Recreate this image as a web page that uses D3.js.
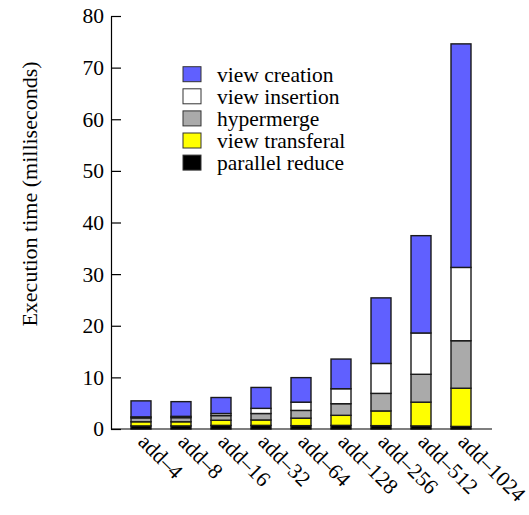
<!DOCTYPE html>
<html>
<head>
<meta charset="utf-8">
<script src="https://cdn.jsdelivr.net/npm/d3@7/dist/d3.min.js"></script>
<style>
  body { margin: 0; background: #fff; }
  svg { display: block; }
  svg text { font-family: "Liberation Serif", "Tinos", "Times New Roman", "Times", serif !important; }
</style>
</head>
<body>
<svg id="chart" width="529" height="515"></svg>
<script>
const categories = ["add–4", "add–8", "add–16", "add–32", "add–64", "add–128", "add–256", "add–512", "add–1024"];
const seriesNames = ["parallel reduce", "view transferal", "hypermerge", "view insertion", "view creation"];
const parallelReduce = [0.6, 0.6, 0.7, 0.7, 0.65, 0.7, 0.65, 0.6, 0.5];
const viewTransferal = [0.8, 0.8, 1.0, 1.05, 1.45, 1.95, 2.85, 4.6, 7.4];
const hypermerge     = [0.75, 0.8, 0.9, 1.25, 1.5, 2.25, 3.4, 5.4, 9.2];
const viewInsertion  = [0.2, 0.25, 0.4, 1.0, 1.6, 2.9, 5.8, 8.0, 14.2];
const viewCreation   = [3.1, 2.85, 3.1, 4.05, 4.75, 5.75, 12.7, 18.85, 43.3];
const yTicks = [0, 10, 20, 30, 40, 50, 60, 70, 80];
const colors = ["#000000", "#ffff00", "#aaaaaa", "#ffffff", "#6060ff"];
const legendOrder = ["view creation", "view insertion", "hypermerge", "view transferal", "parallel reduce"];

const seriesValues = [parallelReduce, viewTransferal, hypermerge, viewInsertion, viewCreation];
const table = categories.map((c, i) => {
  const row = { cat: c };
  seriesNames.forEach((s, k) => row[s] = seriesValues[k][i]);
  return row;
});

const svg = d3.select("#chart");
const fontSize = 21.5;
const serif = "Liberation Serif, Tinos, Times New Roman, serif";

const y = d3.scaleLinear().domain([0, 80]).range([429, 16]);
const x = d3.scaleBand().domain(categories).range([121, 481]).paddingInner(0.5).paddingOuter(0.25);
const color = d3.scaleOrdinal().domain(seriesNames).range(colors);

const stacked = d3.stack().keys(seriesNames)(table);

// bars
const g = svg.append("g");
stacked.forEach(layer => {
  g.selectAll(null).data(layer).enter().append("rect")
    .attr("x", d => x(d.data.cat))
    .attr("width", x.bandwidth())
    .attr("y", d => y(d[1]))
    .attr("height", d => y(d[0]) - y(d[1]))
    .attr("fill", color(layer.key))
    .attr("stroke", "#1a1a1a")
    .attr("stroke-width", 1.4);
});

// y axis
const yAxis = d3.axisLeft(y).tickValues(yTicks).tickSizeInner(-10).tickSizeOuter(0).tickPadding(7);
const ya = svg.append("g").attr("transform", "translate(111,0)").call(yAxis)
  .attr("font-family", serif).attr("font-size", fontSize);
ya.select(".domain").attr("stroke", "#000").attr("stroke-width", 1.2);
ya.selectAll(".tick line").attr("stroke", "#000").attr("stroke-width", 1.2);
ya.selectAll(".tick text").attr("fill", "#000");

// x baseline
svg.append("line").attr("x1", 111).attr("x2", 492).attr("y1", y(0)).attr("y2", y(0))
  .attr("stroke", "#000").attr("stroke-width", 1.2);

// x labels
const xAxis = d3.axisBottom(x).tickSize(0).tickPadding(0);
const xa = svg.append("g").attr("transform", "translate(0," + y(0) + ")").call(xAxis)
  .attr("font-family", serif).attr("font-size", fontSize);
xa.select(".domain").remove();
xa.selectAll(".tick text")
  .attr("fill", "#000")
  .attr("text-anchor", "start")
  .attr("dy", null)
  .attr("y", 0)
  .attr("transform", "translate(-4,14) rotate(45)");

// y title
svg.append("text")
  .attr("transform", "translate(37,194) rotate(-90)")
  .attr("text-anchor", "middle")
  .attr("font-family", serif)
  .attr("font-size", 22)
  .text("Execution time (milliseconds)");

// legend
const lg = svg.append("g").attr("font-family", serif).attr("font-size", fontSize);
legendOrder.forEach((name, i) => {
  const yy = 66.7 + i * 22.1;
  lg.append("rect").attr("x", 183).attr("y", yy).attr("width", 18).attr("height", 15)
    .attr("fill", color(name)).attr("stroke", "#333").attr("stroke-width", 1);
  lg.append("text").attr("x", 217).attr("y", yy + 15).text(name);
});
</script>
</body>
</html>
